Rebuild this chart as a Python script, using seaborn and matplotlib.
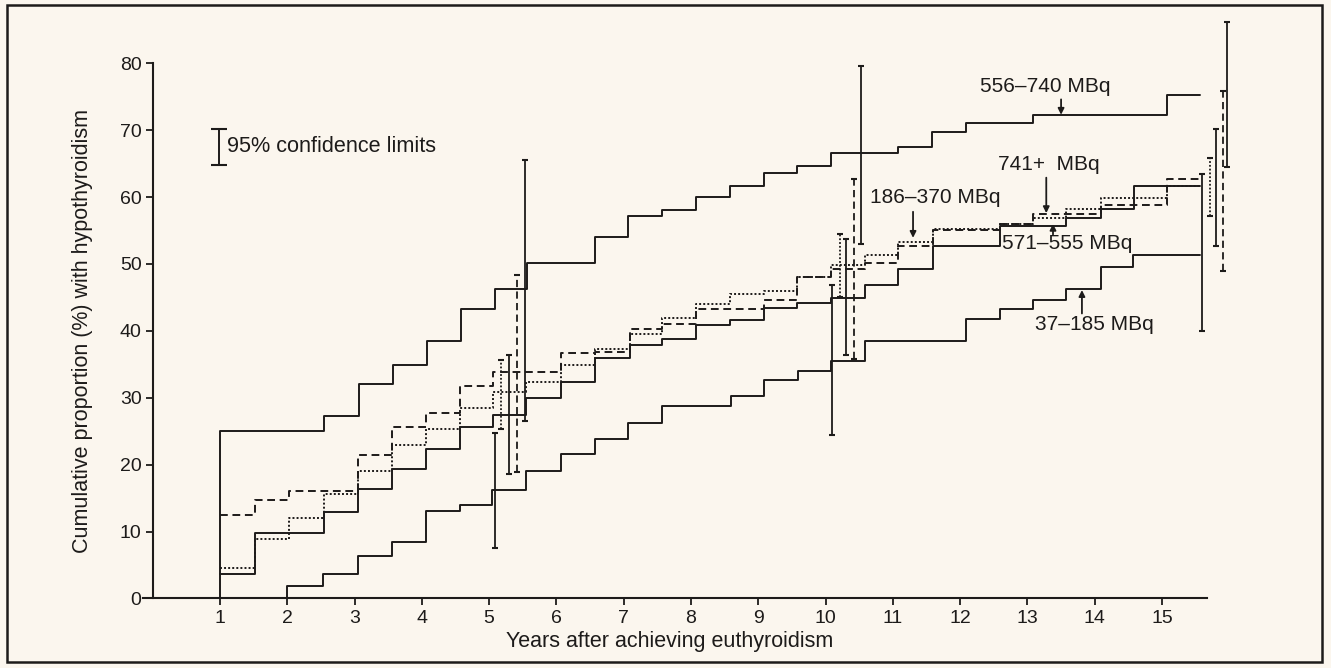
import numpy as np
import pandas as pd
import matplotlib
matplotlib.use('Agg')
import matplotlib.pyplot as plt
import seaborn as sns
from matplotlib.patches import Rectangle

# Curvas acumuladas (años tras eutiroidismo, % con hipotiroidismo)
x_556_740 = [1, 1, 2.55, 3.06, 3.57, 4.07, 4.58, 5.08, 5.57, 6.57, 7.07, 7.57, 8.08, 8.58,
             9.08, 9.58, 10.08, 11.08, 11.58, 12.08, 13.08, 15.08, 15.56]
y_556_740 = [0, 25.0, 27.2, 32.1, 34.9, 38.5, 43.2, 46.2, 50.1, 54.0, 57.2, 58.0, 60.0, 61.7,
             63.6, 64.6, 66.6, 67.5, 69.8, 71.1, 72.2, 75.3, 75.3]

x_371_555 = [1, 1.52, 2.54, 3.05, 3.55, 4.06, 4.56, 5.06, 5.55, 6.07, 6.57, 7.09, 7.57, 8.08,
             8.58, 9.08, 9.58, 10.08, 10.58, 11.08, 11.6, 12.59, 13.58, 14.09, 14.58, 15.56]
y_371_555 = [3.7, 9.8, 12.9, 16.3, 19.4, 22.4, 25.6, 27.4, 30.0, 32.4, 36.0, 37.9, 38.8, 40.9,
             41.6, 43.4, 44.1, 44.9, 46.9, 49.3, 52.7, 55.6, 56.8, 58.2, 61.7, 61.7]

x_186_370 = [1, 1.52, 2.02, 3.05, 3.55, 4.06, 4.56, 5.06, 6.07, 6.57, 7.09, 7.57, 8.08, 9.08,
             9.58, 10.08, 10.58, 11.08, 11.6, 12.59, 13.08, 14.09, 15.08, 15.56]
y_186_370 = [12.5, 14.7, 16.1, 21.5, 25.7, 27.7, 31.7, 33.9, 36.7, 36.9, 40.3, 41.0, 43.2, 44.6,
             48.0, 49.2, 50.1, 52.7, 55.1, 56.0, 57.4, 58.8, 62.7, 62.7]

x_741 = [1, 1.52, 2.02, 2.54, 3.05, 3.55, 4.06, 4.56, 5.06, 5.55, 6.07, 6.57, 7.09, 7.57,
         8.08, 8.58, 9.08, 9.58, 10.08, 10.58, 11.08, 11.6, 12.59, 13.08, 13.58, 14.09, 15.08, 15.56]
y_741 = [4.6, 8.9, 12.0, 15.6, 19.1, 22.9, 25.4, 28.4, 30.9, 32.3, 34.9, 37.3, 39.5, 41.9,
         44.0, 45.5, 45.9, 48.1, 49.9, 51.4, 53.3, 55.3, 56.0, 56.8, 58.2, 59.9, 61.7, 61.7]

x_37_185 = [2, 2, 2.53, 3.05, 3.56, 4.06, 4.56, 5.05, 5.55, 6.07, 6.57, 7.07, 7.57, 8.59,
            9.08, 9.59, 10.08, 10.58, 12.08, 12.59, 13.08, 13.58, 14.09, 14.57, 15.56]
y_37_185 = [0, 1.9, 3.6, 6.3, 8.5, 13.0, 14.0, 16.2, 19.1, 21.6, 23.9, 26.3, 28.8, 30.2,
            32.6, 34.0, 35.5, 38.5, 41.7, 43.2, 44.6, 46.3, 49.6, 51.4, 51.4]

# Límites de confianza del 95% (x, inferior, superior)
ic_x_37_185 = [5.08, 10.1, 15.59]
ic_lo_37_185 = [7.6, 24.5, 40.0]
ic_hi_37_185 = [24.8, 46.8, 63.4]
ic_x_741 = [5.18, 10.22, 15.71]
ic_lo_741 = [25.4, 45.0, 57.1]
ic_hi_741 = [35.7, 54.5, 65.8]
ic_x_371_555 = [5.29, 10.31, 15.8]
ic_lo_371_555 = [18.6, 36.4, 52.7]
ic_hi_371_555 = [36.4, 53.7, 70.1]
ic_x_186_370 = [5.41, 10.42, 15.9]
ic_lo_186_370 = [18.9, 35.8, 48.9]
ic_hi_186_370 = [48.4, 62.7, 75.9]
ic_x_556_740 = [5.53, 10.53, 15.97]
ic_lo_556_740 = [26.5, 53.0, 64.5]
ic_hi_556_740 = [65.5, 79.6, 86.2]

BG = '#fbf6ee'
INK = '#1d1b1a'
DOTS = (0, (1, 1.1))
DASH = (0, (4, 2.4))

series = [
    ('556-740', x_556_740, y_556_740, '-'),
    ('371-555', x_371_555, y_371_555, '-'),
    ('186-370', x_186_370, y_186_370, DASH),
    ('741+', x_741, y_741, DOTS),
    ('37-185', x_37_185, y_37_185, '-'),
]
intervalos = [
    (ic_x_37_185, ic_lo_37_185, ic_hi_37_185, '-'),
    (ic_x_741, ic_lo_741, ic_hi_741, DOTS),
    (ic_x_371_555, ic_lo_371_555, ic_hi_371_555, '-'),
    (ic_x_186_370, ic_lo_186_370, ic_hi_186_370, DASH),
    (ic_x_556_740, ic_lo_556_740, ic_hi_556_740, '-'),
]

df = pd.concat([pd.DataFrame({'grupo': n, 'anos': xs, 'pct': ys}) for n, xs, ys, _ in series],
               ignore_index=True)

sns.set_theme(style='ticks')
plt.rcParams['font.family'] = ['Liberation Sans', 'DejaVu Sans']

fig = plt.figure(figsize=(13.31, 6.68), dpi=100, facecolor=BG)
ax = fig.add_axes([0.1046, 0.0991, 0.8291, 0.8813])
ax.set_facecolor(BG)

for nombre, _, _, ls in series:
    sns.lineplot(data=df[df['grupo'] == nombre], x='anos', y='pct', estimator=None, sort=False,
                 drawstyle='steps-post', color=INK, lw=1.4, linestyle=ls, ax=ax)

for xs, lo, hi, ls in intervalos:
    lo = np.array(lo)
    hi = np.array(hi)
    eb = ax.errorbar(xs, lo, yerr=[np.zeros_like(lo), hi - lo], fmt='none', ecolor=INK,
                     elinewidth=1.3, capsize=2, capthick=1.5)
    eb[2][0].set_linestyle(ls)

# leyenda del intervalo de confianza
ax.errorbar([0.98], [64.8], yerr=[[0], [5.4]], fmt='none', ecolor=INK, elinewidth=1.4,
            capsize=5.5, capthick=1.5)
ax.text(1.1, 67.5, '95% confidence limits', fontsize=15.6, va='center', ha='left', color=INK)

# etiquetas de las curvas
etiquetas = [
    ('556–740 MBq', 12.29, 76.5, (13.5, 74.6), (13.5, 72.3)),
    ('741+  MBq', 12.56, 64.8, (13.28, 62.9), (13.28, 57.6)),
    ('186–370 MBq', 10.66, 60.0, (11.3, 57.8), (11.3, 53.9)),
    ('571–555 MBq', 12.62, 53.0, (13.38, 54.4), (13.38, 56.0)),
    ('37–185 MBq', 13.11, 40.9, (13.81, 42.6), (13.81, 46.1)),
]
for txt, tx, ty, a0, a1 in etiquetas:
    ax.text(tx, ty, txt, fontsize=15, va='center', ha='left', color=INK)
    ax.annotate('', xy=a1, xytext=a0,
                arrowprops=dict(arrowstyle='-|>', color=INK, lw=1.3, mutation_scale=9,
                                shrinkA=0, shrinkB=0))

ax.set_xlim(-0.2, 16.2)
ax.set_ylim(-0.5, 87.5)
ax.set_xticks(range(1, 16))
ax.set_yticks(range(0, 81, 10))
ax.tick_params(direction='out', length=5, width=1.3, labelsize=14, pad=3, colors=INK)

for s in ['top', 'right']:
    ax.spines[s].set_visible(False)
ax.spines['left'].set_position(('data', 0))
ax.spines['bottom'].set_position(('data', 0))
ax.spines['left'].set_bounds(0, 80)
ax.spines['bottom'].set_bounds(-0.15, 15.67)
for s in ['left', 'bottom']:
    ax.spines[s].set_linewidth(1.5)
    ax.spines[s].set_color(INK)

ax.set_xlabel('Years after achieving euthyroidism', fontsize=15.5, color=INK)
ax.set_ylabel('Cumulative proportion (%) with hypothyroidism', fontsize=15.5, color=INK)
ax.xaxis.set_label_coords(0.481, -0.05)
ax.yaxis.set_label_coords(-0.042, 0.46)

fig.add_artist(Rectangle((7 / 1331, 1 - 662 / 668), 1315 / 1331, 657 / 668,
                         transform=fig.transFigure, fill=False, lw=1.8, ec=INK))

fig.savefig('out.png', dpi=100, facecolor=BG)
